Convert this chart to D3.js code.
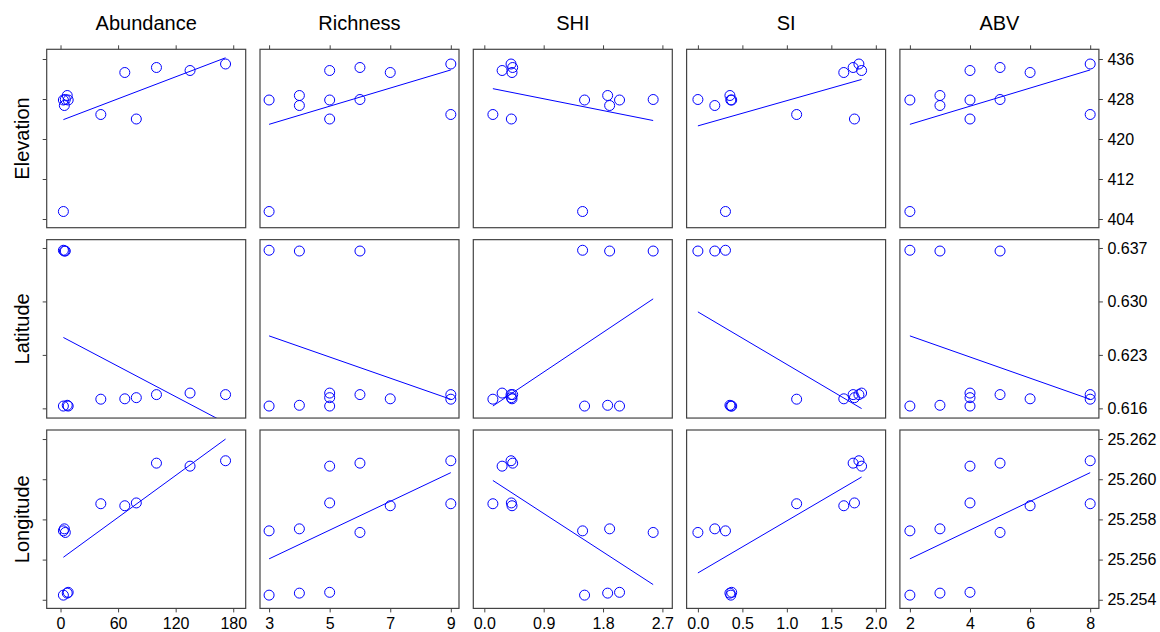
<!DOCTYPE html>
<meta charset="utf-8">
<style>
  body { margin: 0; background: #fff; }
  text { font-family: "Liberation Sans", Arial, sans-serif; fill: #000; }
</style>

<script src="https://d3js.org/d3.v7.min.js"></script>

<div id="chart"></div>

<script>
// one value per site (12 sites)
var abundance = [3, 3, 7, 4, 135, 8, 79, 100, 5, 67, 172, 42];
var richness  = [3, 3, 4, 4, 5, 5, 5, 6, 6, 7, 9, 9];
var shi       = [1.52, 1.49, 1.87, 1.90, 0.27, 2.05, 0.41, 0.43, 2.56, 0.42, 0.405, 0.13];
var si        = [0.37, 0.31, 0.36, 0.19, 1.84, 0.38, 1.76, 1.745, 0.00, 1.64, 1.81, 1.11];
var abv       = [2, 2, 3, 3, 4, 4, 4, 5, 5, 6, 8, 8];
var elevation = [427.8, 405.5, 428.7, 426.7, 433.7, 427.8, 424.0, 434.3, 427.9, 433.3, 435.0, 424.9];
var latitude  = [0.6163, 0.6367, 0.6164, 0.6366, 0.6180, 0.6163, 0.6174, 0.6178, 0.6366, 0.61725, 0.6178, 0.6172];
var longitude = [25.25423, 25.25743, 25.25433, 25.25753, 25.26065, 25.25437, 25.25882, 25.26080,
                 25.25735, 25.25868, 25.26092, 25.25878];

var xNames = ["Abundance", "Richness", "SHI", "SI", "ABV"];
var yNames = ["Elevation", "Latitude", "Longitude"];

// tick values
var abundanceTicks = [0, 60, 120, 180];
var richnessTicks  = [3, 5, 7, 9];
var shiTicks       = [0, 0.9, 1.8, 2.7];
var siTicks        = [0, 0.5, 1, 1.5, 2];
var abvTicks       = [2, 4, 6, 8];
var elevationTicks = [404, 412, 420, 428, 436];
var latitudeTicks  = [0.616, 0.623, 0.630, 0.637];
var longitudeTicks = [25.254, 25.256, 25.258, 25.260, 25.262];

var xVars = [
  { values: abundance, ticks: abundanceTicks, fmt: d3.format("d"),   domain: [-14.4, 193.0] },
  { values: richness,  ticks: richnessTicks,  fmt: d3.format("d"),   domain: [2.70, 9.27] },
  { values: shi,       ticks: shiTicks,       fmt: d3.format(".1f"), domain: [-0.167, 2.85] },
  { values: si,        ticks: siTicks,        fmt: d3.format(".1f"), domain: [-0.127, 2.11] },
  { values: abv,       ticks: abvTicks,       fmt: d3.format("d"),   domain: [1.667, 8.29] }
];
var yVars = [
  { values: elevation, ticks: elevationTicks, fmt: d3.format("d"),   domain: [402.26, 437.94] },
  { values: latitude,  ticks: latitudeTicks,  fmt: d3.format(".3f"), domain: [0.61473, 0.63809] },
  { values: longitude, ticks: longitudeTicks, fmt: d3.format(".3f"), domain: [25.25357, 25.26245] }
];

// layout
var W = 1160, H = 632;
var left0 = 46.7, top0 = 49.3;
var pw = 199, ph = 178.4;
var stepX = 213.3, stepY = 190.35;
var blue = "#0000ff", frame = "#444";

var svg = d3.select("#chart")
  .append("svg")
  .attr("width", W)
  .attr("height", H);

// least squares fit
function fit(xs, ys) {
  var mx = d3.mean(xs), my = d3.mean(ys);
  var sxy = 0, sxx = 0;
  for (var k = 0; k < xs.length; k++) {
    sxy += (xs[k] - mx) * (ys[k] - my);
    sxx += (xs[k] - mx) * (xs[k] - mx);
  }
  var b = sxy / sxx;
  return { a: my - b * mx, b: b };
}

function styleAxis(g, fontSize) {
  g.select(".domain").remove();
  g.selectAll(".tick line").attr("stroke", frame);
  g.selectAll(".tick text")
    .attr("fill", "#000")
    .style("font-family", '"Liberation Sans", Arial, sans-serif')
    .style("font-size", fontSize + "px");
}

xVars.forEach(function(xv, i) {
  yVars.forEach(function(yv, j) {
    var px = left0 + i * stepX, py = top0 + j * stepY;
    var x = d3.scaleLinear().domain(xv.domain).range([0, pw]);
    var y = d3.scaleLinear().domain(yv.domain).range([ph, 0]);

    var g = svg.append("g").attr("transform", "translate(" + px + "," + py + ")");

    var clipId = "clip-" + i + "-" + j;
    g.append("clipPath").attr("id", clipId)
      .append("rect").attr("width", pw).attr("height", ph);

    // regression line over the data range
    var f = fit(xv.values, yv.values);
    var x0 = d3.min(xv.values), x1 = d3.max(xv.values);
    g.append("line")
      .attr("clip-path", "url(#" + clipId + ")")
      .attr("x1", x(x0)).attr("y1", y(f.a + f.b * x0))
      .attr("x2", x(x1)).attr("y2", y(f.a + f.b * x1))
      .attr("stroke", blue)
      .attr("stroke-width", 1);

    g.selectAll("circle")
      .data(xv.values.map(function(v, k) { return [v, yv.values[k]]; }))
      .enter()
      .append("circle")
      .attr("cx", function(d) { return x(d[0]); })
      .attr("cy", function(d) { return y(d[1]); })
      .attr("r", 5)
      .attr("fill", "none")
      .attr("stroke", blue)
      .attr("stroke-width", 1);

    g.append("rect")
      .attr("width", pw).attr("height", ph)
      .attr("fill", "none")
      .attr("stroke", frame)
      .attr("stroke-width", 1.2);

    // ticks: top row gets bare top ticks, bottom row labelled bottom ticks
    if (j === 0) {
      g.append("g")
        .call(d3.axisTop(x).tickValues(xv.ticks).tickSize(4).tickFormat(""))
        .call(styleAxis, 16);
    }
    if (j === yVars.length - 1) {
      g.append("g")
        .attr("transform", "translate(0," + ph + ")")
        .call(d3.axisBottom(x).tickValues(xv.ticks).tickSize(4).tickPadding(5).tickFormat(xv.fmt))
        .call(styleAxis, 16);
    }
    if (i === 0) {
      g.append("g")
        .call(d3.axisLeft(y).tickValues(yv.ticks).tickSize(4).tickFormat(""))
        .call(styleAxis, 16);
    }
    if (i === xVars.length - 1) {
      g.append("g")
        .attr("transform", "translate(" + pw + ",0)")
        .call(d3.axisRight(y).tickValues(yv.ticks).tickSize(4).tickPadding(4.5).tickFormat(yv.fmt))
        .call(styleAxis, 16);
    }
  });
});

// column titles
svg.selectAll(".coltitle")
  .data(xNames)
  .enter()
  .append("text")
  .attr("class", "coltitle")
  .attr("x", function(d, i) { return left0 + i * stepX + pw / 2; })
  .attr("y", 30)
  .attr("text-anchor", "middle")
  .style("font-size", "20px")
  .text(function(d) { return d; });

// row titles
svg.selectAll(".rowtitle")
  .data(yNames)
  .enter()
  .append("text")
  .attr("class", "rowtitle")
  .attr("transform", function(d, j) {
    return "translate(29," + (top0 + j * stepY + ph / 2) + ") rotate(-90)";
  })
  .attr("text-anchor", "middle")
  .style("font-size", "20px")
  .text(function(d) { return d; });
</script>
